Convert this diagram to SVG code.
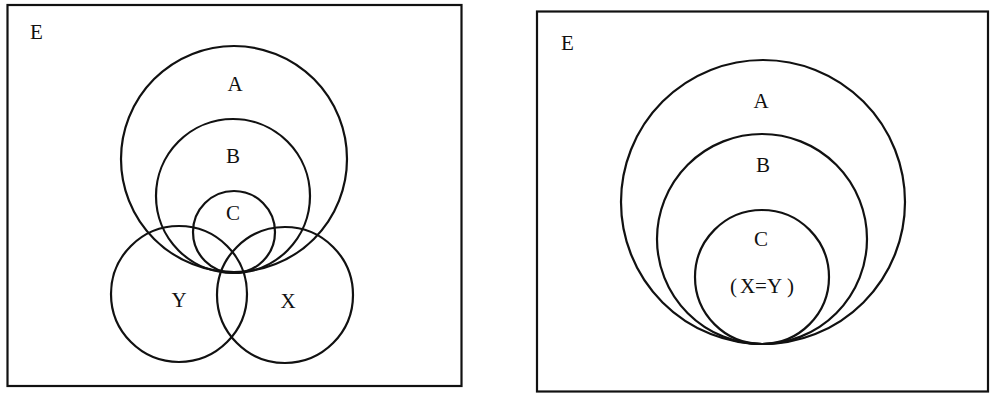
<svg xmlns="http://www.w3.org/2000/svg" width="990" height="396" viewBox="0 0 990 396">
<style>
.frame{fill:none;stroke:#111;stroke-width:2.2}
.c{fill:none;stroke:#111;stroke-width:2.2}
text{font-family:"Liberation Serif","Noto Sans CJK JP",serif;font-size:21px;fill:#111;text-anchor:middle}
</style>
<rect width="990" height="396" fill="#fff"/>
<g id="left-panel">
  <rect id="E1" class="frame" x="7.5" y="5" width="454" height="381"/>
  <text x="36.5" y="38.5">E</text>
  <g id="A1"><circle class="c" cx="234" cy="159" r="113"/><text x="235" y="90.5">A</text></g>
  <g id="B1"><circle class="c" cx="233" cy="196" r="77"/><text x="233" y="163">B</text></g>
  <g id="C1"><circle class="c" cx="234" cy="232" r="41"/><text x="233" y="219.5">C</text></g>
  <g id="Y1"><circle class="c" cx="179" cy="294" r="68"/><text x="179" y="306.5">Y</text></g>
  <g id="X1"><circle class="c" cx="285" cy="295" r="68"/><text x="288" y="307.5">X</text></g>
</g>
<g id="right-panel">
  <rect id="E2" class="frame" x="537" y="11.5" width="451" height="380"/>
  <text x="567.5" y="49.5">E</text>
  <g id="A2"><circle class="c" cx="763" cy="202" r="142"/><text x="761" y="107.5">A</text></g>
  <g id="B2"><circle class="c" cx="762" cy="239" r="105"/><text x="763" y="171.5">B</text></g>
  <g id="C2"><circle class="c" cx="762" cy="277" r="67"/><text x="761" y="245.5">C</text>
    <text x="762" y="292.5">(<tspan dx="3">X=Y</tspan><tspan dx="5">)</tspan></text></g>
</g>
<g id="connectors"/>
</svg>
